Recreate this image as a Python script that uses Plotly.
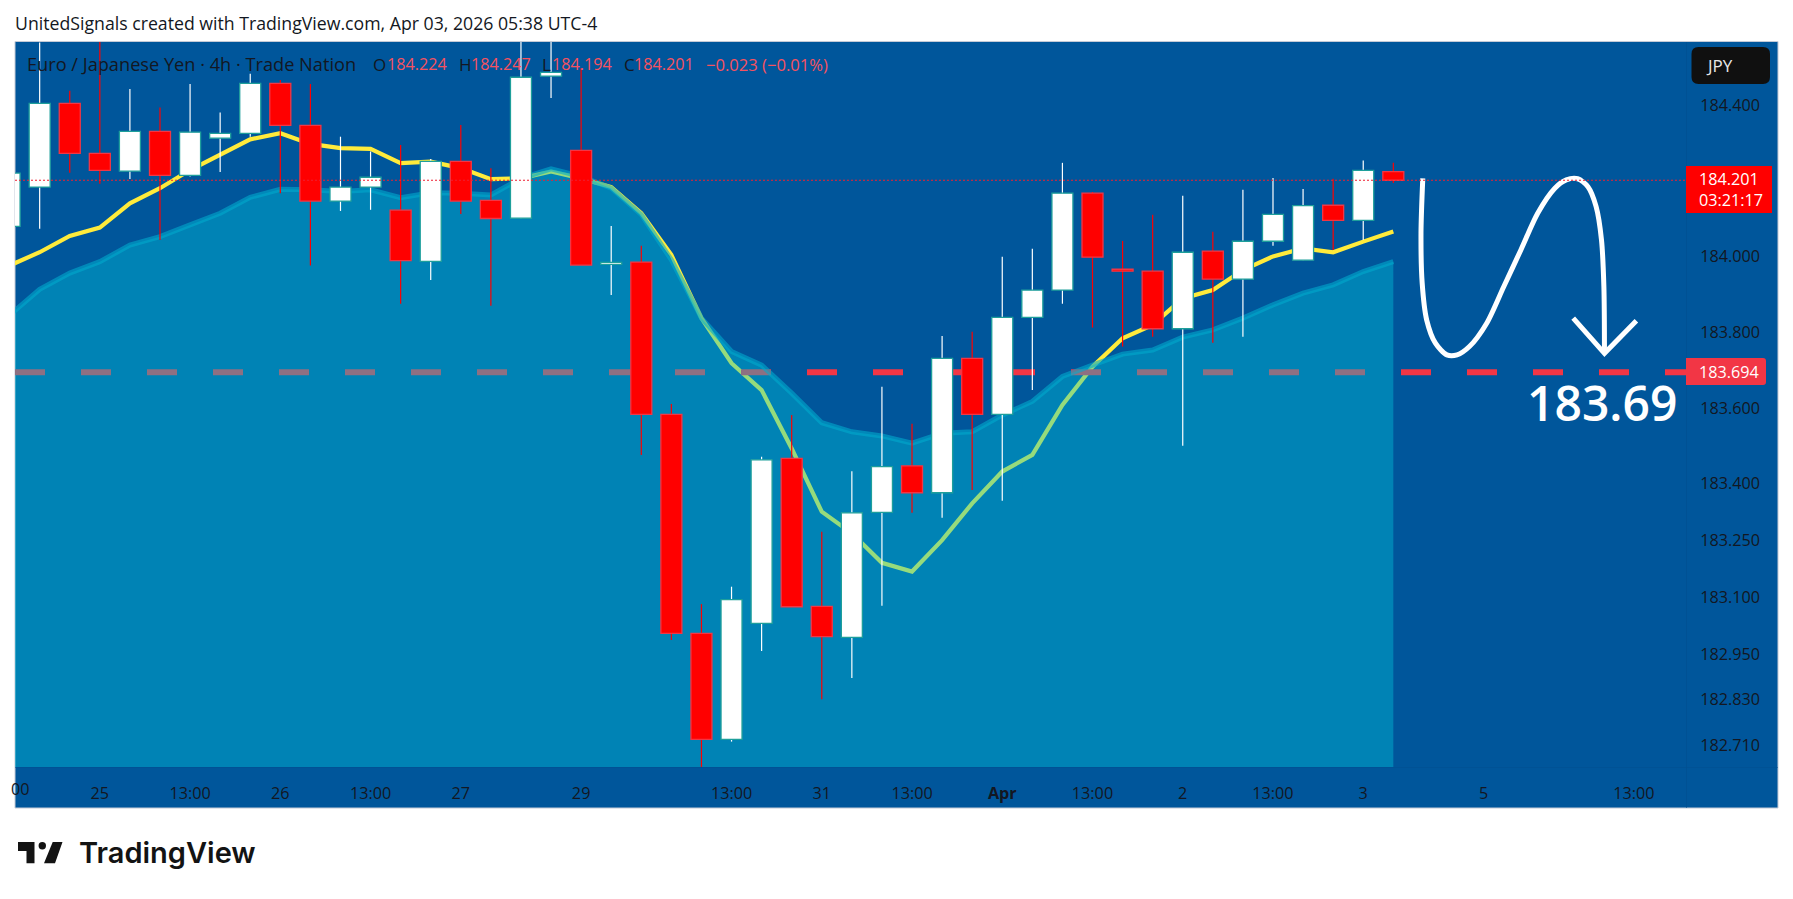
import plotly.graph_objects as go

W, H = 1793, 899
L, R, T, B = 15, 1686, 42, 767   # pixel frame of the main pane

bar_index = list(range(47))
opens  = [184.079,184.183,184.404,184.272,184.225,184.330,184.214,184.312,184.325,184.457,184.346,184.146,184.183,184.122,183.987,184.251,184.148,184.101,184.476,184.280,183.979,183.985,183.583,183.005,182.725,183.031,183.467,183.076,182.994,183.324,183.447,183.376,183.731,183.583,183.839,183.911,184.167,183.966,183.961,183.809,184.014,183.940,184.040,183.990,184.135,184.095,184.224]
highs  = [184.240,184.565,184.437,184.600,184.442,184.393,184.455,184.380,184.482,184.466,184.455,184.316,184.277,184.294,184.257,184.347,184.233,184.600,184.600,184.497,184.080,184.028,183.610,183.082,183.128,183.471,183.581,183.273,183.433,183.656,183.558,183.790,183.801,183.999,184.020,184.247,184.170,184.041,184.110,184.160,184.065,184.176,184.207,184.178,184.205,184.253,184.247]
lows   = [184.060,184.073,184.221,184.192,184.204,184.043,184.211,184.223,184.316,184.167,183.976,184.120,184.123,183.875,183.938,184.112,183.870,184.101,184.418,183.977,183.898,183.476,182.987,182.640,182.719,182.958,183.075,182.831,182.887,183.078,183.323,183.310,183.383,183.355,183.647,183.875,183.812,183.762,183.788,183.500,183.772,183.788,184.028,183.990,184.017,184.043,184.194]
closes = [184.220,184.404,184.272,184.227,184.330,184.214,184.328,184.325,184.457,184.346,184.146,184.183,184.209,183.989,184.251,184.146,184.100,184.473,184.486,183.977,183.984,183.583,183.005,182.725,183.094,183.463,183.075,182.996,183.323,183.445,183.376,183.731,183.583,183.839,183.911,184.167,183.998,183.961,183.809,184.011,183.940,184.040,184.111,184.134,184.095,184.227,184.201]
fast_ma = [183.976,184.011,184.054,184.076,184.140,184.180,184.228,184.268,184.309,184.325,184.297,184.286,184.284,184.246,184.250,184.233,184.204,184.206,184.224,184.206,184.183,184.114,184.004,183.837,183.718,183.647,183.493,183.326,183.269,183.191,183.168,183.251,183.348,183.432,183.476,183.608,183.709,183.784,183.819,183.889,183.911,183.964,184.000,184.021,184.011,184.039,184.066]
slow_ma = [183.845,183.913,183.956,183.986,184.030,184.052,184.083,184.114,184.156,184.177,184.176,184.171,184.176,184.155,184.168,184.167,184.162,184.206,184.231,184.211,184.180,184.110,183.991,183.837,183.749,183.713,183.639,183.561,183.537,183.526,183.507,183.533,183.537,183.581,183.617,183.683,183.713,183.742,183.753,183.787,183.806,183.837,183.872,183.903,183.925,183.960,183.986]

target_price = 183.694
last_price = 184.201

sketch_x = [46.98,46.92,46.96,47.11,47.40,47.78,48.12,48.53,49.10,49.67,50.24,50.80,51.37,51.75,52.13,52.47,52.74,52.92,53.00,53.02]
sketch_y = [184.206,184.061,183.929,183.832,183.771,183.740,183.740,183.762,183.823,183.920,184.017,184.114,184.180,184.202,184.205,184.184,184.132,184.044,183.920,183.744]
arrow_x = [51.98,53.02,54.08]
arrow_y = [183.837,183.744,183.830]

price_ticks = [184.4,184.0,183.8,183.6,183.4,183.25,183.1,182.95,182.83,182.71]
price_labels = ["184.400","184.000","183.800","183.600","183.400","183.250","183.100","182.950","182.830","182.710"]
time_ticks = [3,6,9,12,15,19,24,27,30,33,36,39,42,45,49,54]
time_labels = ["25","13:00","26","13:00","27","29","13:00","31","13:00","<b>Apr</b>","13:00","2","13:00","3","5","13:00"]

BG = "#00569b"
DARK = "#131722"
RED = "#ff0000"
TAG = "#f23645"
TEAL = "#1e9f9b"
SANS = "Open Sans"
FS = 16.2
X_RANGE = [0.18, 55.73]
Y_RANGE = [182.652, 184.566]


def px(x):
    return (x - L) / (R - L)


def py(y):
    return (B - y) / (B - T)


def rect(x0, y0, x1, y1, fill, line=None, layer="above", lw=1):
    return dict(type="rect", xref="paper", yref="paper", x0=px(x0), x1=px(x1), y0=py(y0), y1=py(y1),
                fillcolor=fill, line=dict(color=line or "rgba(0,0,0,0)", width=lw if line else 0), layer=layer)


def poly(points, fill, layer="above"):
    path = "M" + " L".join(f"{px(a)},{py(b)}" for a, b in points) + " Z"
    return dict(type="path", xref="paper", yref="paper", path=path, fillcolor=fill, line=dict(width=0), layer=layer)


def rrect(x0, y0, x1, y1, r, fill, rl=True, layer="above"):
    rl_ = r if rl else 0
    p = (f"M{px(x0+rl_)},{py(y0)} L{px(x1-r)},{py(y0)} Q{px(x1)},{py(y0)} {px(x1)},{py(y0+r)} "
         f"L{px(x1)},{py(y1-r)} Q{px(x1)},{py(y1)} {px(x1-r)},{py(y1)} L{px(x0+rl_)},{py(y1)} "
         f"Q{px(x0)},{py(y1)} {px(x0)},{py(y1-rl_)} L{px(x0)},{py(y0+rl_)} Q{px(x0)},{py(y0)} {px(x0+rl_)},{py(y0)} Z")
    return dict(type="path", xref="paper", yref="paper", path=p, fillcolor=fill, line=dict(width=0), layer=layer)


def label(x, y, text, color=DARK, size=FS, anchor="left", family=SANS, weight=None):
    font = dict(family=family, size=size, color=color)
    if weight:
        font["weight"] = weight
    return dict(xref="paper", yref="paper", x=px(x), y=py(y), text=text, showarrow=False,
                xanchor=anchor, yanchor="middle", font=font, borderpad=0, borderwidth=0)


up = [c >= o for o, c in zip(opens, closes)]


def pick(values, flag):
    return [v for v, u in zip(values, up) if u == flag]


fig = go.Figure()

# under the translucent area
fig.add_trace(go.Scatter(x=bar_index, y=fast_ma, mode="lines", line=dict(color="#ffeb3b", width=4.2),
                         hoverinfo="skip", showlegend=False))
fig.add_trace(go.Scatter(x=X_RANGE, y=[target_price, target_price], mode="lines",
                         line=dict(color=TAG, width=6, dash="30px,36px"), hoverinfo="skip", showlegend=False))
fig.add_trace(go.Scatter(x=bar_index, y=slow_ma, mode="lines", fill="tozeroy",
                         fillcolor="rgba(0,196,218,0.41)", line=dict(color="rgba(0,170,205,0.6)", width=5),
                         hoverinfo="skip", showlegend=False))

# wicks in a first overlay, bodies in a second one above them
for flag, wick in [(True, "#ffffff"), (False, RED)]:
    wick_x, wick_y = [], []
    for i, lo, hi in zip(pick(bar_index, flag), pick(lows, flag), pick(highs, flag)):
        wick_x += [i, i, None]
        wick_y += [lo, hi, None]
    fig.add_trace(go.Scatter(x=wick_x, y=wick_y, mode="lines", line=dict(color=wick, width=1.2), yaxis="y2",
                             hoverinfo="skip", showlegend=False))
for flag, fill, edge in [(True, "#ffffff", TEAL), (False, RED, TAG)]:
    xs = pick(bar_index, flag)
    o = pick(opens, flag)
    c = pick(closes, flag)
    fig.add_trace(go.Bar(x=xs, y=[max(a, b) - min(a, b) for a, b in zip(o, c)], base=[min(a, b) for a, b in zip(o, c)],
                         width=21 / 30.08, marker=dict(color=fill, line=dict(color=edge, width=1.3)), yaxis="y3",
                         hoverinfo="skip", showlegend=False))

# hand drawn sketch
fig.add_trace(go.Scatter(x=sketch_x, y=sketch_y, mode="lines", yaxis="y3",
                         line=dict(color="#ffffff", width=5, shape="spline", smoothing=0.8),
                         hoverinfo="skip", showlegend=False))
fig.add_trace(go.Scatter(x=arrow_x, y=arrow_y, mode="lines", yaxis="y3", line=dict(color="#ffffff", width=5),
                         hoverinfo="skip", showlegend=False))

shapes = [
    rect(15, 41.5, 1778, 808, BG, line="#c4cad6", layer="below"),
    rect(15, 767, 1686, 767.6, "#004f90", layer="below"),
    rect(1686, 767, 1778, 767.6, "#004f90", layer="below"),
    rect(1686, 42, 1686.6, 808, "#004f90", layer="below"),
    dict(type="line", xref="x", yref="y", x0=X_RANGE[0], x1=X_RANGE[1], y0=last_price, y1=last_price,
         line=dict(color="#f01f30", width=1.2, dash="2px,2px"), layer="above"),
    rect(1686, 166, 1772, 213, RED),
    rrect(1686, 358, 1766, 385, 3, TAG, rl=False),
    rrect(1691.5, 47, 1770, 84, 7, "#101010"),
    # TradingView mark
    poly([(18, 842), (34.5, 842), (34.5, 863.3), (26.5, 863.3), (26.5, 851), (18, 851)], "#131313"),
    poly([(52.7, 842), (62.5, 842), (55, 863.3), (44, 863.3)], "#131313"),
    dict(type="circle", xref="paper", yref="paper", x0=px(38.6), x1=px(46), y0=py(842), y1=py(849.4),
         fillcolor="#131313", line=dict(width=0), layer="above"),
]

annotations = [
    label(15, 23, "UnitedSignals created with TradingView.com, Apr 03, 2026 05:38 UTC-4", color="#131722", size=17.7),
    label(27, 64, "Euro / Japanese Yen · 4h · Trade Nation", size=18.2),
    label(373, 64, "O", size=17), label(387, 64, "184.224", "#f7525f"),
    label(459, 64, "H", size=17), label(471, 64, "184.247", "#f7525f"),
    label(542, 64, "L", size=17), label(552, 64, "184.194", "#f7525f"),
    label(624, 64, "C", size=17), label(634, 64, "184.201", "#f7525f"),
    label(706, 64, "\u22120.023 (\u22120.01%)", "#f7525f", size=16.6),
    label(1706, 65.5, "JPY", "#e8e8e8", size=17),
    label(1699, 179, "184.201", "#ffffff"),
    label(1699, 200, "03:21:17", "#ffffff"),
    label(1699, 372, "183.694", "#ffffff"),
    label(1602, 402, "183.69", "#ffffff", size=48, anchor="center", weight=600),
    label(30, 789, "00", anchor="right"),
    label(79, 852, "TradingView", "#131313", size=29, family="Inter", weight=600),
]

fig.update_layout(
    width=W, height=H, autosize=False,
    margin=dict(l=L, r=W - R, t=T, b=H - B, pad=0, autoexpand=False),
    paper_bgcolor="#ffffff", plot_bgcolor=BG,
    barmode="overlay", showlegend=False, hovermode=False,
    shapes=shapes, annotations=annotations,
    font=dict(family=SANS, size=FS, color=DARK),
    xaxis=dict(range=X_RANGE, tickmode="array", tickvals=time_ticks, ticktext=time_labels, showgrid=False,
               zeroline=False, showline=False, ticks="outside", ticklen=12, tickcolor="rgba(0,0,0,0)",
               tickfont=dict(family=SANS, size=FS, color=DARK), tickangle=0),
    yaxis=dict(range=Y_RANGE, side="right", tickmode="array", tickvals=price_ticks, ticktext=price_labels,
               showgrid=False, zeroline=False, showline=False, ticks="outside", ticklen=10,
               tickcolor="rgba(0,0,0,0)", tickfont=dict(family=SANS, size=FS, color=DARK)),
    yaxis2=dict(range=Y_RANGE, overlaying="y", side="right", visible=False),
    yaxis3=dict(range=Y_RANGE, overlaying="y", side="right", visible=False),
)

fig.write_html("out.html", config=dict(displayModeBar=False),
               post_script="document.body.style.margin='0';document.body.style.overflow='hidden';")
